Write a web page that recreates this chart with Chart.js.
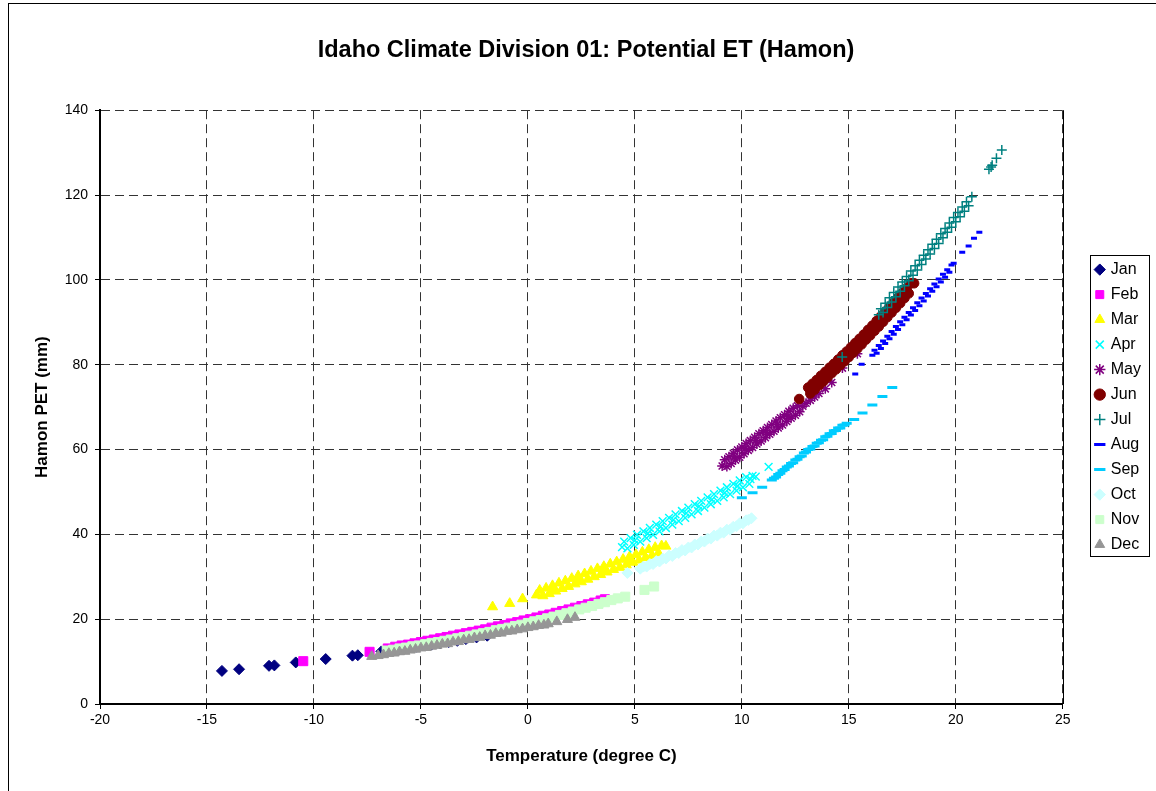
<!DOCTYPE html>
<html>
<head>
<meta charset="utf-8">
<script src="https://cdn.jsdelivr.net/npm/chart.js@4.4.1/dist/chart.umd.min.js"></script>
<style>
  html, body { margin: 0; padding: 0; background: #fff; overflow: hidden; }
</style>
</head>
<body>
<canvas id="chart" width="1156" height="791"></canvas>
<script>
// monthly [temperature degC, Hamon PET mm]
const months = ["Jan", "Feb", "Mar", "Apr", "May", "Jun", "Jul", "Aug", "Sep", "Oct", "Nov", "Dec"];

const janPts = [[-14.3,7.8],[-13.5,8.2],[-12.1,9.0],[-11.85,9.1],[-10.85,9.8],[-9.45,10.6],[-8.2,11.4],[-7.95,11.5],[-6.85,12.4],[-6.4,12.6],[-6.0,12.9],[-5.6,13.2],[-5.2,13.5],[-4.8,13.8],[-4.5,14.0],[-4.1,14.3],[-3.7,14.6],[-3.3,14.9],[-2.9,15.3],[-2.4,15.7],[-1.9,16.1]];
const febPts = [[-10.5,10.1],[-7.4,12.3],[-6.55,13.1],[-6.2,13.5],[-5.9,13.8],[-5.6,14.0],[-5.3,14.3],[-5.0,14.6],[-4.7,14.9],[-4.4,15.2],[-4.1,15.5],[-3.8,15.8],[-3.5,16.1],[-3.2,16.4],[-2.9,16.7],[-2.6,17.0],[-2.3,17.3],[-2.0,17.6],[-1.7,18.0],[-1.4,18.3],[-1.1,18.6],[-0.8,19.0],[-0.5,19.3],[-0.2,19.7],[0.1,20.0],[0.4,20.4],[0.7,20.8],[1.0,21.1],[1.3,21.5],[1.6,21.9],[1.9,22.3],[2.2,22.7],[2.5,23.1],[2.8,23.5],[3.1,23.9],[3.4,24.4],[3.6,24.7]];
const marPts = [[-1.65,22.9],[-0.85,23.7],[-0.25,24.8],[0.4,25.7],[0.55,26.8],[0.7,25.5],[0.85,27.3],[1.0,26.0],[1.15,27.9],[1.3,26.6],[1.45,28.5],[1.6,27.2],[1.75,29.0],[1.9,27.7],[2.05,29.6],[2.2,28.3],[2.35,30.2],[2.5,28.8],[2.65,30.7],[2.8,29.4],[2.95,31.3],[3.1,30.0],[3.25,31.9],[3.4,30.5],[3.55,32.4],[3.7,31.1],[3.85,33.0],[4.0,31.7],[4.15,33.5],[4.3,32.2],[4.45,34.1],[4.6,32.8],[4.75,34.7],[4.9,33.4],[5.05,35.2],[5.2,33.9],[5.35,35.8],[5.5,34.5],[5.65,36.4],[5.8,35.0],[5.95,36.9],[6.1,35.6],[6.25,37.3],[6.45,37.2],[1.2,27.1],[2.4,29.4],[3.6,31.7],[4.8,34.0]];
const aprPts = [[4.4,37.0],[4.5,38.3],[4.65,36.7],[4.8,39.1],[4.95,37.5],[5.1,39.9],[5.25,38.3],[5.4,40.7],[5.55,39.1],[5.7,41.5],[5.85,39.9],[6.0,42.3],[6.15,40.7],[6.3,43.1],[6.45,41.5],[6.6,43.9],[6.75,42.3],[6.9,44.7],[7.05,43.1],[7.2,45.5],[7.35,43.9],[7.5,46.3],[7.65,44.7],[7.8,47.1],[7.95,45.5],[8.1,47.9],[8.25,46.3],[8.4,48.7],[8.55,47.1],[8.7,49.5],[8.85,47.9],[9.0,50.3],[9.15,48.7],[9.3,51.1],[9.45,49.5],[9.6,51.9],[9.75,50.3],[9.9,52.7],[10.05,51.1],[10.2,53.5],[10.35,51.9],[10.5,53.8],[10.65,53.6],[11.25,55.9],[5.0,38.6],[5.6,40.2],[6.2,41.8],[6.8,43.4],[7.4,45.0],[8.0,46.6],[8.6,48.2],[9.2,49.8],[9.8,51.4],[10.4,53.0]];
const mayPts = [[9.08,56.1],[9.2,57.6],[9.3,56.0],[9.4,58.3],[9.5,56.7],[9.6,59.1],[9.7,57.5],[9.8,59.9],[9.9,58.2],[10.0,60.6],[10.1,59.0],[10.2,61.4],[10.3,59.8],[10.4,62.1],[10.5,60.5],[10.6,62.9],[10.7,61.3],[10.8,63.7],[10.9,62.0],[11.0,64.4],[11.1,62.8],[11.2,65.2],[11.3,63.6],[11.4,65.9],[11.5,64.3],[11.6,66.7],[11.7,65.1],[11.8,67.5],[11.9,65.8],[12.0,68.2],[12.1,66.6],[12.2,69.0],[12.3,67.4],[12.4,69.7],[12.5,68.1],[12.6,70.3],[12.7,68.9],[12.85,70.2],[13.0,70.9],[13.2,71.6],[13.4,72.4],[13.6,73.2],[13.9,74.3],[14.2,75.8],[14.7,79.2],[15.4,82.6],[9.65,58.3],[10.15,60.2],[10.65,62.1],[11.15,64.0],[11.65,65.9],[12.15,67.8]];
const junPts = [[12.68,71.9],[13.1,74.6],[13.2,73.2],[13.3,75.5],[13.4,74.1],[13.5,76.4],[13.6,75.1],[13.7,77.4],[13.8,76.0],[13.9,78.3],[14.0,77.0],[14.1,79.3],[14.2,78.0],[14.3,80.2],[14.4,78.9],[14.5,81.2],[14.6,79.9],[14.7,82.2],[14.8,80.8],[14.9,83.1],[15.0,81.8],[15.1,84.1],[15.2,82.8],[15.3,85.1],[15.4,83.8],[15.5,86.1],[15.6,84.8],[15.7,87.1],[15.8,85.9],[15.9,88.2],[16.0,86.9],[16.1,89.2],[16.2,88.0],[16.3,90.3],[16.4,89.0],[16.5,91.4],[16.6,90.1],[16.7,92.5],[16.8,91.2],[16.9,93.6],[17.0,92.3],[17.1,94.7],[17.2,93.4],[17.3,95.8],[17.4,94.5],[17.5,96.9],[17.6,95.7],[17.7,98.0],[17.8,96.8],[17.9,99.2],[18.05,99.2]];
const julPts = [[14.69,81.8],[16.4,91.8],[16.5,93.2],[16.6,92.3],[16.7,94.5],[16.8,93.5],[16.9,95.8],[17.0,94.8],[17.1,97.0],[17.2,96.0],[17.3,98.3],[17.4,97.3],[17.5,99.5],[17.6,98.6],[17.7,100.8],[17.8,99.8],[17.9,102.1],[18.0,101.1],[18.1,103.3],[18.2,102.3],[18.3,104.6],[18.4,103.6],[18.5,105.8],[18.6,104.9],[18.7,107.1],[18.8,106.1],[18.9,108.4],[19.0,107.4],[19.1,109.6],[19.2,108.6],[19.3,110.9],[19.4,109.9],[19.5,112.1],[19.6,111.2],[19.7,113.4],[19.8,112.4],[19.9,114.7],[20.0,113.7],[20.1,115.9],[20.2,114.9],[20.3,117.2],[20.4,116.2],[20.5,118.4],[20.6,117.5],[20.75,119.6],[21.55,126.1],[21.65,126.6],[21.7,127.0],[21.9,128.7],[22.15,130.6]];
const augPts = [[15.3,77.8],[15.6,80.1],[16.1,82.2],[16.2,83.4],[16.3,82.7],[16.4,84.5],[16.5,83.8],[16.6,85.6],[16.7,85.0],[16.8,86.7],[16.9,86.1],[17.0,87.8],[17.1,87.2],[17.2,89.0],[17.3,88.3],[17.4,90.1],[17.5,89.4],[17.6,91.2],[17.7,90.6],[17.8,92.3],[17.9,91.7],[18.0,93.4],[18.1,92.8],[18.2,94.6],[18.3,93.9],[18.4,95.7],[18.5,95.0],[18.6,96.8],[18.7,96.2],[18.8,97.9],[18.9,97.3],[19.0,99.0],[19.1,98.4],[19.2,100.2],[19.3,99.5],[19.4,101.3],[19.5,100.6],[19.6,102.4],[19.7,101.8],[19.8,103.5],[19.9,103.9],[20.3,106.5],[20.6,108.0],[20.85,109.8],[21.1,111.2]];
const sepPts = [[10.0,48.6],[10.5,49.8],[10.95,51.1],[11.4,52.8],[11.5,53.2],[11.6,53.5],[11.7,54.1],[11.8,54.4],[11.9,55.0],[12.0,55.3],[12.1,55.9],[12.2,56.1],[12.3,56.7],[12.4,56.9],[12.5,57.5],[12.6,57.7],[12.7,58.3],[12.8,58.5],[12.9,59.2],[13.0,59.4],[13.1,60.0],[13.2,60.1],[13.3,60.7],[13.4,60.8],[13.5,61.5],[13.6,61.6],[13.7,62.2],[13.8,62.3],[13.9,63.0],[14.0,63.1],[14.1,63.7],[14.2,63.8],[14.3,64.4],[14.4,64.5],[14.5,65.1],[14.6,65.1],[14.7,65.7],[14.8,65.8],[14.9,66.2],[15.25,67.1],[15.64,68.6],[16.1,70.5],[16.57,72.5],[17.03,74.6]];
const octPts = [[4.65,30.9],[5.25,31.9],[5.4,32.4],[5.55,32.4],[5.7,33.0],[5.85,33.0],[6.0,33.7],[6.15,33.6],[6.3,34.3],[6.45,34.3],[6.6,35.0],[6.75,34.9],[6.9,35.6],[7.05,35.6],[7.2,36.3],[7.35,36.2],[7.5,36.9],[7.65,36.9],[7.8,37.6],[7.95,37.6],[8.1,38.3],[8.25,38.3],[8.4,39.0],[8.55,39.0],[8.7,39.7],[8.85,39.7],[9.0,40.4],[9.15,40.4],[9.3,41.1],[9.45,41.1],[9.6,41.8],[9.75,41.9],[9.9,42.6],[10.05,42.6],[10.2,43.3],[10.3,43.4],[10.45,43.8]];
const novPts = [[-6.6,12.6],[-6.3,12.8],[-6.0,13.1],[-5.7,13.3],[-5.4,13.6],[-5.1,13.8],[-4.8,14.1],[-4.5,14.4],[-4.2,14.6],[-3.9,14.9],[-3.6,15.2],[-3.3,15.5],[-3.0,15.8],[-2.7,16.1],[-2.4,16.4],[-2.1,16.7],[-1.8,17.0],[-1.5,17.4],[-1.2,17.7],[-0.9,18.0],[-0.6,18.4],[-0.3,18.7],[0.0,19.1],[0.3,19.5],[0.6,19.8],[0.9,20.2],[1.2,20.6],[1.5,21.0],[1.8,21.4],[2.1,21.8],[2.4,22.3],[2.7,22.7],[3.0,23.1],[3.3,23.6],[3.6,24.0],[3.9,24.5],[4.2,24.9],[4.55,25.3],[5.45,26.9],[5.9,27.7]];
const decPts = [[-7.3,11.2],[-7.0,11.4],[-6.75,11.6],[-6.5,11.9],[-6.25,12.0],[-6.0,12.3],[-5.75,12.4],[-5.5,12.7],[-5.25,12.9],[-5.0,13.2],[-4.75,13.3],[-4.5,13.6],[-4.25,13.8],[-4.0,14.1],[-3.75,14.2],[-3.5,14.6],[-3.25,14.7],[-3.0,15.1],[-2.75,15.2],[-2.5,15.6],[-2.25,15.7],[-2.0,16.1],[-1.75,16.2],[-1.5,16.6],[-1.25,16.7],[-1.0,17.1],[-0.75,17.2],[-0.5,17.5],[-0.25,17.7],[0.0,18.0],[0.25,18.2],[0.5,18.5],[0.75,18.6],[0.95,18.9],[1.35,19.4],[1.85,19.9],[2.2,20.4]];

const xTicks = { min: -20, max: 25, step: 5 };
const yTicks = { min: 0, max: 140, step: 20 };

const seriesPts = [janPts, febPts, marPts, aprPts, mayPts, junPts, julPts, augPts, sepPts, octPts, novPts, decPts];

// Excel-like marker per month
const markers = [
  { color: "#000080", style: "rectRot",  r: 5.5, bw: 1 },
  { color: "#ff00ff", style: "rect",     r: 6.4, bw: 1 },
  { color: "#ffff00", style: "triangle", r: 5.8, bw: 1 },
  { color: "#00ffff", style: "crossRot", r: 5.5, bw: 1.5 },
  { color: "#800080", style: "star",     r: 5,   bw: 1.5 },
  { color: "#800000", style: "circle",   r: 4.8, bw: 1 },
  { color: "#008080", style: "cross",    r: 5,   bw: 1.5 },
  { color: "#0000ff", style: "line",     r: 3,   bw: 3 },
  { color: "#00ccff", style: "line",     r: 5,   bw: 3 },
  { color: "#ccffff", style: "rectRot",  r: 5.5, bw: 1 },
  { color: "#ccffcc", style: "rect",     r: 6.4, bw: 1 },
  { color: "#969696", style: "triangle", r: 5.8, bw: 1 }
];

const datasets = months.map((m, i) => ({
  label: m,
  data: seriesPts[i].map(p => ({ x: p[0], y: p[1] })),
  backgroundColor: markers[i].color,
  borderColor: markers[i].color,
  borderWidth: markers[i].bw,
  pointStyle: markers[i].style,
  pointRadius: markers[i].r,
  pointHoverRadius: markers[i].r,
  order: months.length - i   // later months drawn on top, like Excel
}));

Chart.defaults.font.family = "'Liberation Sans', Arial, sans-serif";
Chart.defaults.color = "#000";

const framePlugin = {
  id: "frame",
  beforeDraw(chart) {
    const ctx = chart.ctx;
    ctx.save();
    ctx.fillStyle = "#fff";
    ctx.fillRect(0, 0, chart.width, chart.height);
    ctx.strokeStyle = "#000";
    ctx.lineWidth = 1;
    ctx.strokeRect(8.5, 3.5, 1400, 1000);
    ctx.restore();
  },
  afterDraw(chart) {
    const ctx = chart.ctx;
    const a = chart.chartArea;
    const lg = chart.legend;
    ctx.save();
    ctx.strokeStyle = "#000";
    ctx.lineWidth = 1;
    ctx.beginPath();
    ctx.moveTo(Math.round(a.right) + 0.5, a.top);
    ctx.lineTo(Math.round(a.right) + 0.5, a.bottom);
    ctx.stroke();
    // box round the legend
    const hb = lg.legendHitBoxes;
    const top = Math.round(hb[0].top + 8 - 15);
    const bottom = Math.round(hb[hb.length - 1].top + 8 + 11);
    ctx.strokeRect(Math.round(lg.left) + 2.5, top + 0.5, 59, bottom - top);
    ctx.restore();
  }
};

new Chart(document.getElementById("chart"), {
  type: "scatter",
  data: { datasets: datasets },
  plugins: [framePlugin],
  options: {
    responsive: false,
    animation: false,
    devicePixelRatio: 1,
    layout: { padding: { left: 21, right: 5, top: 0, bottom: 0 } },
    plugins: {
      title: {
        display: true,
        text: "Idaho Climate Division 01: Potential ET (Hamon)",
        font: { size: 23.5, weight: "bold" },
        color: "#000",
        padding: { top: 36, bottom: 46 }
      },
      legend: {
        position: "right",
        fullSize: false,
        reverse: true,
        labels: {
          usePointStyle: true,
          boxWidth: 6,
          boxHeight: 8,
          padding: 9,
          font: { size: 16 },
          color: "#000"
        }
      },
      tooltip: { enabled: false }
    },
    scales: {
      x: {
        type: "linear",
        min: xTicks.min,
        max: xTicks.max,
        ticks: { stepSize: xTicks.step, font: { size: 14 }, color: "#000", padding: 3 },
        grid: { color: "#333", tickLength: 5, tickColor: "#000", tickBorderDash: [] },
        border: { color: "#000", width: 2, dash: [9, 5] },
        title: { display: true, text: "Temperature (degree C)", font: { size: 17, weight: "bold" }, padding: { top: 0, bottom: 24 } },
        afterFit: s => { s.height = 87; }
      },
      y: {
        type: "linear",
        min: yTicks.min,
        max: yTicks.max,
        ticks: { stepSize: yTicks.step, font: { size: 14 }, color: "#000", padding: 7 },
        grid: { color: "#333", tickLength: 5, tickColor: "#000", tickBorderDash: [] },
        border: { color: "#000", width: 2, dash: [9, 5] },
        title: { display: true, text: "Hamon PET (mm)", font: { size: 17, weight: "bold" }, padding: { top: 11, bottom: 0 } },
        afterFit: s => { s.width = 79; }
      },
      gap: {
        type: "linear",
        position: "right",
        display: true,
        grid: { display: false },
        border: { display: false },
        ticks: { display: false },
        afterFit: s => { s.width = 25; }
      }
    }
  }
});
</script>
</body>
</html>
